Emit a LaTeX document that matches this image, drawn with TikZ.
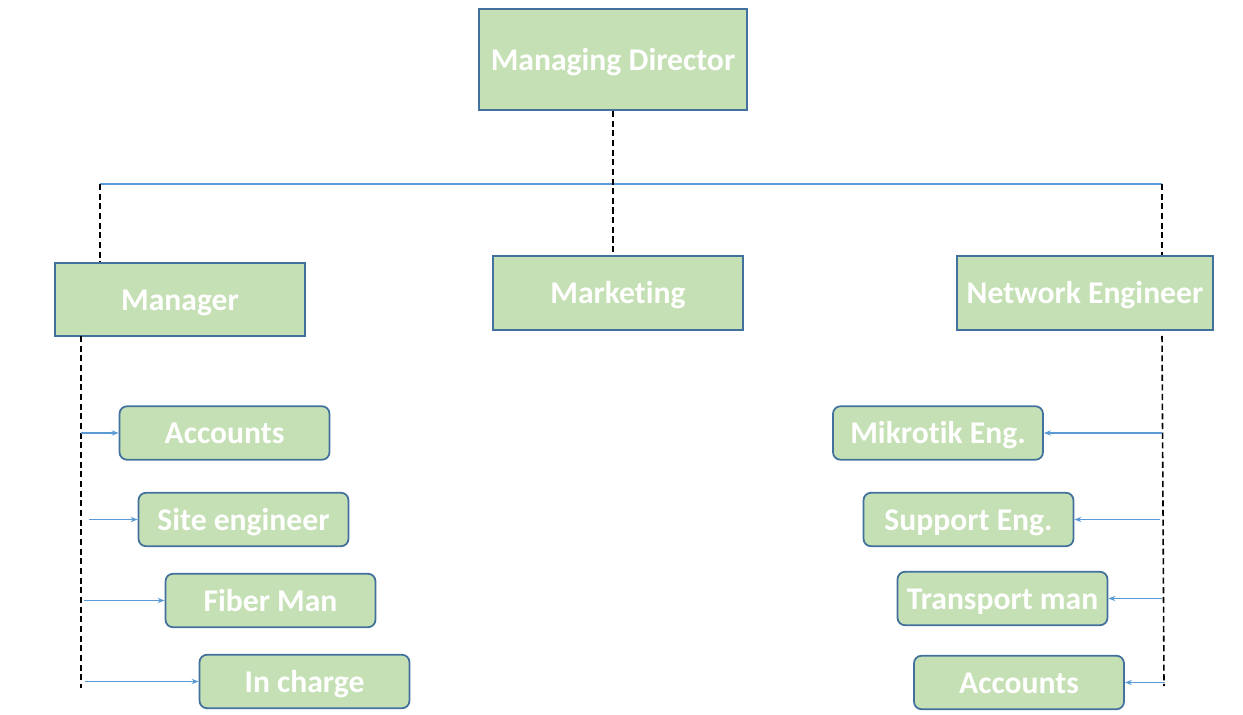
\documentclass[tikz,border=0pt]{standalone}
\usepackage{fontspec}
\setmainfont{Carlito}[Ligatures={NoCommon}]
\usetikzlibrary{arrows.meta}

\definecolor{boxgreen}{HTML}{C5E0B4}
\definecolor{boxblue}{HTML}{41719C}
\definecolor{linkblue}{HTML}{5B9BD5}

\begin{document}
\begin{tikzpicture}[x=0.02cm,y=-0.02cm,
    post/.style={draw=boxblue,line width=1pt,fill=boxgreen,text=white,
      font=\fontsize{18}{20}\selectfont\bfseries,inner sep=0pt,
      text height=12pt,text depth=0pt},
    headbox/.style={post,minimum width=5cm,minimum height=1.47cm},
    subbox/.style={post,rounded corners=0.15cm,minimum width=4.2cm,minimum height=1.07cm},
    spine/.style={dash pattern=on 3.5pt off 2pt,line width=0.9pt},
    link/.style={linkblue,line width=0.8pt},
    feed/.style={link,-{Stealth[length=4pt,width=3pt]}}]
        \useasboundingbox (0,0) rectangle (1243,715);

        \node[post,minimum width=5.36cm,minimum height=2.02cm] (md) at (613,59.5) {Managing Director};

        \node[headbox] (manager) at (180,299.5) {Manager};
        \node[headbox] (marketing) at (618,293) {Marketing};
        \node[headbox,minimum width=5.12cm] (neteng) at (1085,293) {Network Engineer};

        \node[subbox] (accL) at (224.5,433) {Accounts};
        \node[subbox] (site) at (243.5,519.5) {Site engineer};
        \node[subbox] (fiber) at (270.5,600.5) {Fiber Man};
        \node[subbox] (incharge) at (304.5,681.5) {In charge};

        \node[subbox] (mikrotik) at (938,433) {Mikrotik Eng.};
        \node[subbox] (support) at (968.5,519.5) {Support Eng.};
        \node[subbox] (transport) at (1002.5,598.5) {Transport man};
        \node[subbox] (accR) at (1019,682.5) {Accounts};

        % top level
        \coordinate (lft) at (100,184);
        \coordinate (rgt) at (1162,184);
        \draw[link] (lft) -- (rgt);
        \draw[spine] (md.south) -- (marketing.north -| md.south);
        \draw[spine] (lft) -- (lft |- manager.north);
        \draw[spine] (rgt) -- (rgt |- neteng.north);

        % manager branch
        \coordinate (mtop) at (81,336);
        \coordinate (mend) at (81,688);
        \draw[spine] (mtop) -- (mend);
        \foreach \n/\s in {accL/81, site/89, fiber/84, incharge/85} {
          \draw[feed] (\s,0 |- \n.west) -- (\n.west);
        }

        % network engineer branch
        \coordinate (ntop) at (1162,336);
        \coordinate (nend) at (1164,686);
        \draw[spine] (ntop) -- (nend);
        \foreach \n/\s in {mikrotik/1162, support/1160, transport/1162, accR/1165} {
          \draw[feed] (\s,0 |- \n.east) -- (\n.east);
        }
\end{tikzpicture}
\end{document}
